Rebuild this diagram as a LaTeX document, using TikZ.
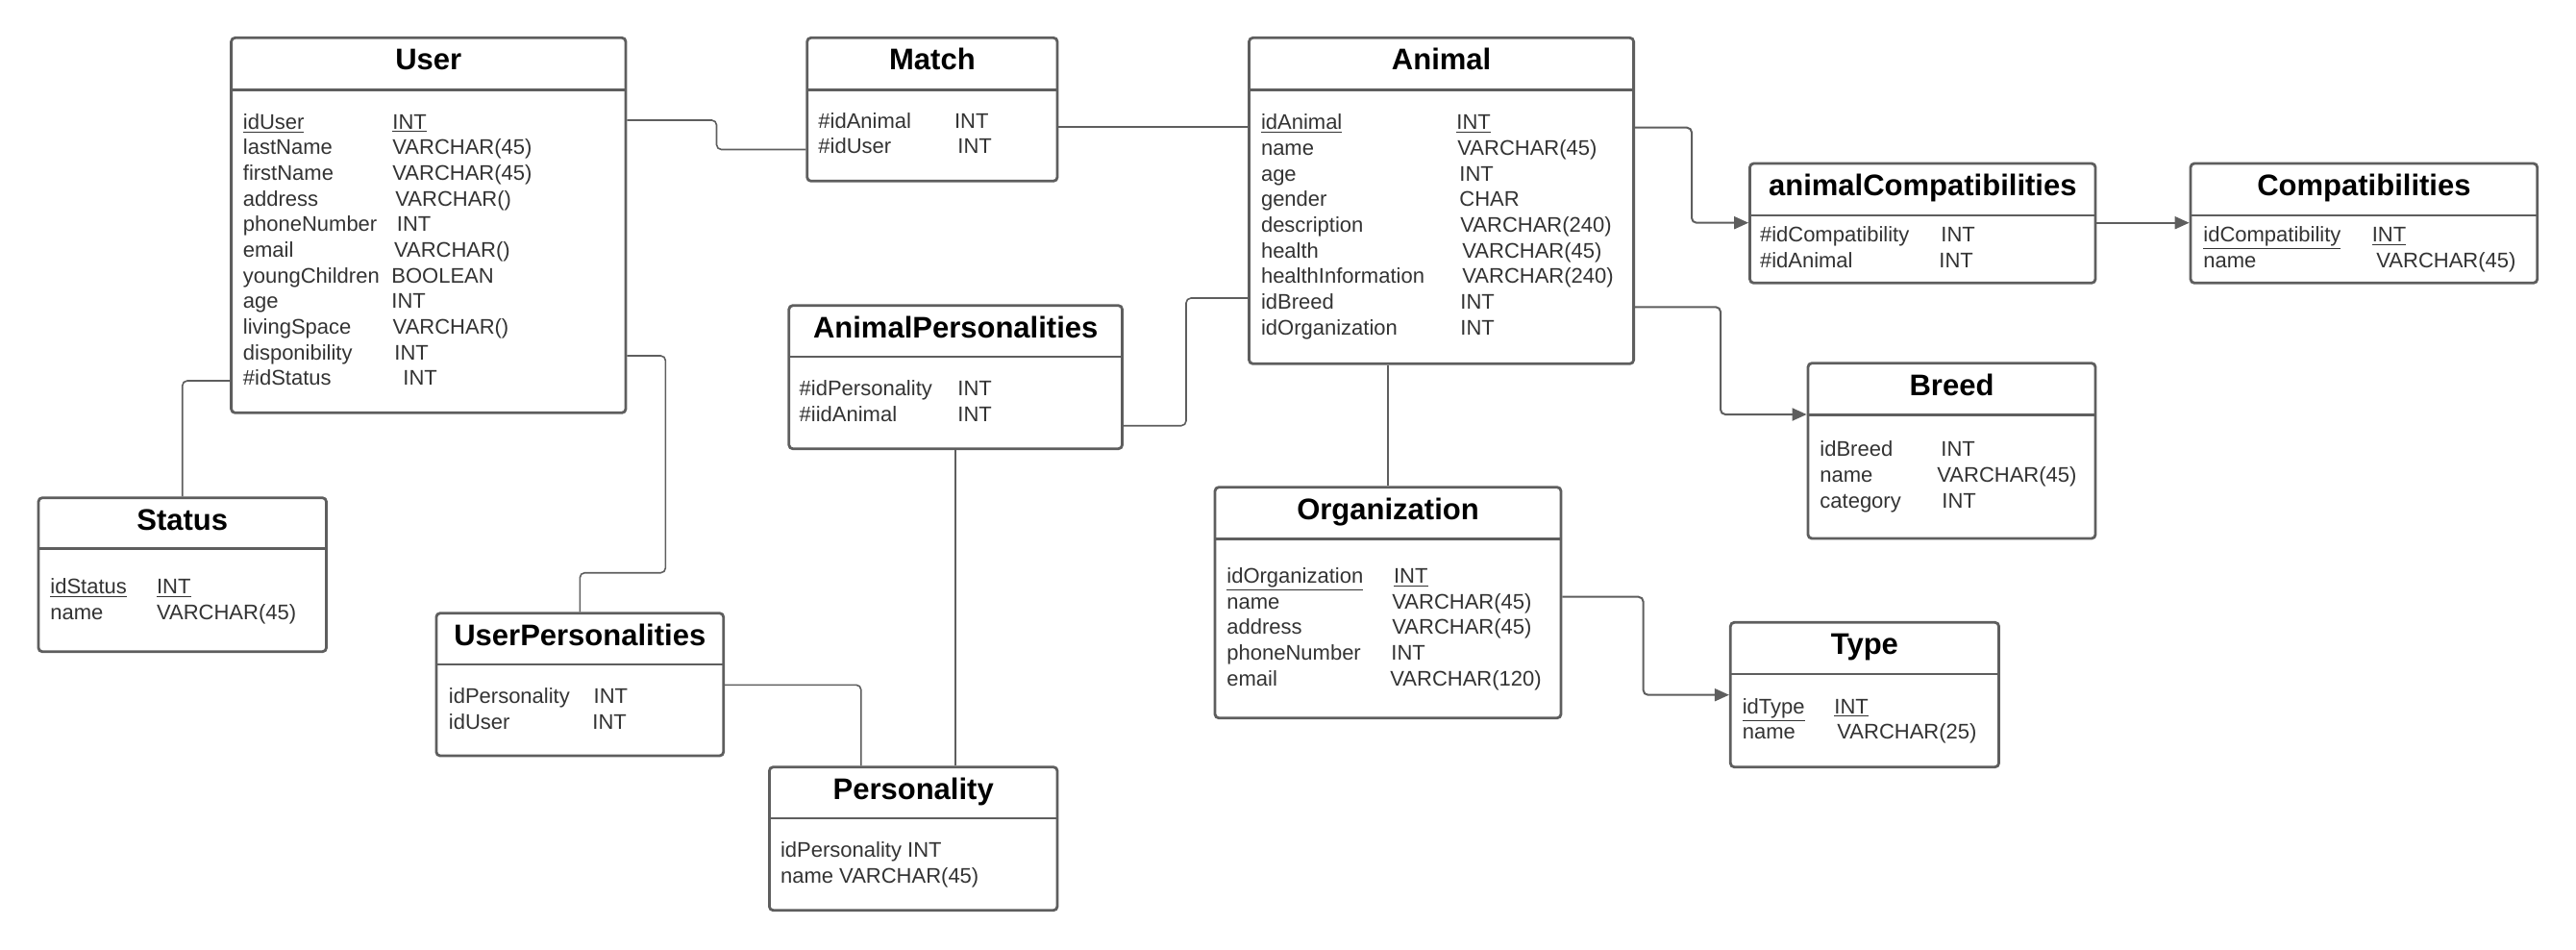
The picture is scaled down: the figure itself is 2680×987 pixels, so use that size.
\documentclass[tikz,border=0pt]{standalone}
\usepackage{fontspec}
\setmainfont{Liberation Sans}
\usetikzlibrary{arrows.meta,fit}
\definecolor{lc}{HTML}{5E5E5E}
\definecolor{tc}{HTML}{333333}
\newcommand{\erfield}[6]{%
  \node[fld] (#1n) at (#2,#4+8) {#5};
  \node[fld] (#1t) at (#3,#4+8) {#6};}
\newcommand{\ertitle}[4]{\node[ttl] (#1) at (#2,#3+33.5) {#4};}
\begin{document}
\begin{tikzpicture}[x=0.5pt,y=-0.5pt,
 ebox/.style={draw=lc, line width=1.4pt, rounded corners=2pt, inner sep=0pt, fill=white},
 hline/.style={draw=lc, line width=1.4pt},
 conn/.style={draw=lc, line width=0.8pt, rounded corners=2.5pt},
 aconn/.style={conn, line width=1pt, -{Triangle[length=7.5pt,width=6.5pt]}},
 ttl/.style={anchor=base, font=\fontsize{15.5pt}{18pt}\selectfont\bfseries, text=black, inner sep=0pt},
 fld/.style={anchor=base west, font=\fontsize{11pt}{13pt}\selectfont, text=tc, inner sep=0pt}]
\useasboundingbox (0,0) rectangle (2680,987);

% ---------- User ----------
\node[ebox, fit={(240.6,39.3) (651,429.3)}] (user) {};
\draw[hline] (240.6,93.3) -- (651,93.3);
\ertitle{userT}{445.8}{39.3}{User}
\erfield{u1}{252.5}{408}{126}{\underline{idUser}}{\underline{INT}}
\erfield{u2}{252.5}{408}{152.7}{lastName}{VARCHAR(45)}
\erfield{u3}{252.5}{408}{179.3}{firstName}{VARCHAR(45)}
\erfield{u4}{252.5}{411}{206}{address}{VARCHAR()}
\erfield{u5}{252.5}{412.5}{232.7}{phoneNumber}{INT}
\erfield{u6}{252.5}{409.7}{259.3}{email}{VARCHAR()}
\erfield{u7}{252.5}{407}{286}{youngChildren}{BOOLEAN}
\erfield{u8}{252.5}{407}{312.7}{age}{INT}
\erfield{u9}{252.5}{408.3}{339.3}{livingSpace}{VARCHAR()}
\erfield{u10}{252.5}{410}{366}{disponibility}{INT}
\erfield{u11}{252.5}{419}{392.7}{\#idStatus}{INT}

% ---------- Match ----------
\node[ebox, fit={(839.7,39.3) (1100,188.3)}] (match) {};
\draw[hline] (839.7,93.3) -- (1100,93.3);
\ertitle{matchT}{969.9}{39.3}{Match}
\erfield{m1}{851}{992.6}{125}{\#idAnimal}{INT}
\erfield{m2}{851}{996}{151.7}{\#idUser}{INT}

% ---------- Animal ----------
\node[ebox, fit={(1299.5,39.3) (1699.6,378.3)}] (animal) {};
\draw[hline] (1299.5,93.3) -- (1699.6,93.3);
\ertitle{animalT}{1499.6}{39.3}{Animal}
\erfield{a1}{1311.6}{1515}{126.7}{\underline{idAnimal}}{\underline{INT}}
\erfield{a2}{1311.6}{1516}{153.3}{name}{VARCHAR(45)}
\erfield{a3}{1311.6}{1518}{180}{age}{INT}
\erfield{a4}{1311.6}{1518}{206.7}{gender}{CHAR}
\erfield{a5}{1311.6}{1519}{233.3}{description}{VARCHAR(240)}
\erfield{a6}{1311.6}{1521}{260}{health}{VARCHAR(45)}
\erfield{a7}{1311.6}{1521}{286.7}{healthInformation}{VARCHAR(240)}
\erfield{a8}{1311.6}{1519}{313.3}{idBreed}{INT}
\erfield{a9}{1311.6}{1519}{340}{idOrganization}{INT}

% ---------- animalCompatibilities ----------
\node[ebox, fit={(1820.5,170) (2180,294.3)}] (animcomp) {};
\draw[hline] (1820.5,224) -- (2180,224);
\ertitle{animcompT}{2000.3}{170}{animalCompatibilities}
\erfield{ac1}{1830.6}{2019}{243.3}{\#idCompatibility}{INT}
\erfield{ac2}{1830.6}{2017}{270}{\#idAnimal}{INT}

% ---------- Compatibilities ----------
\node[ebox, fit={(2279,170) (2639.7,294.3)}] (comp) {};
\draw[hline] (2279,224) -- (2639.7,224);
\ertitle{compT}{2459.4}{170}{Compatibilities}
\erfield{c1}{2292}{2467.4}{243.3}{\underline{idCompatibility}}{\underline{INT}}
\erfield{c2}{2292}{2472}{270}{name}{VARCHAR(45)}

% ---------- AnimalPersonalities ----------
\node[ebox, fit={(820.8,317.7) (1167.5,466.7)}] (animpers) {};
\draw[hline] (820.8,371) -- (1167.5,371);
\ertitle{animpersT}{994.2}{317.7}{AnimalPersonalities}
\erfield{ap1}{831.3}{996}{403.3}{\#idPersonality}{INT}
\erfield{ap2}{831.3}{996}{430}{\#iidAnimal}{INT}

% ---------- Breed ----------
\node[ebox, fit={(1881,377.7) (2180,560)}] (breed) {};
\draw[hline] (1881,431.7) -- (2180,431.7);
\ertitle{breedT}{2030.5}{377.7}{Breed}
\erfield{b1}{1893}{2019}{466.7}{idBreed}{INT}
\erfield{b2}{1893}{2015}{493.3}{name}{VARCHAR(45)}
\erfield{b3}{1893}{2020}{520}{category}{INT}

% ---------- Status ----------
\node[ebox, fit={(40,517.7) (339.5,677.7)}] (status) {};
\draw[hline] (40,570.7) -- (339.5,570.7);
\ertitle{statusT}{189.75}{517.7}{Status}
\erfield{s1}{52}{162.7}{609.3}{\underline{idStatus}}{\underline{INT}}
\erfield{s2}{52}{162.7}{636}{name}{VARCHAR(45)}

% ---------- Organization ----------
\node[ebox, fit={(1264,506.7) (1624,746.7)}] (org) {};
\draw[hline] (1264,560.3) -- (1624,560.3);
\ertitle{orgT}{1444}{506.7}{Organization}
\erfield{o1}{1276}{1449.7}{598.3}{\underline{idOrganization}}{\underline{INT}}
\erfield{o2}{1276}{1448}{625}{name}{VARCHAR(45)}
\erfield{o3}{1276}{1448}{651.7}{address}{VARCHAR(45)}
\erfield{o4}{1276}{1447}{678.3}{phoneNumber}{INT}
\erfield{o5}{1276}{1446}{705}{email}{VARCHAR(120)}

% ---------- UserPersonalities ----------
\node[ebox, fit={(453.9,637.7) (752.7,786)}] (userpers) {};
\draw[hline] (453.9,691) -- (752.7,691);
\ertitle{userpersT}{603.3}{637.7}{UserPersonalities}
\erfield{up1}{466.5}{617.3}{723.3}{idPersonality}{INT}
\erfield{up2}{466.5}{616}{750}{idUser}{INT}

% ---------- Type ----------
\node[ebox, fit={(1800.3,647.3) (2079.5,797.7)}] (type) {};
\draw[hline] (1800.3,701) -- (2079.5,701);
\ertitle{typeT}{1939.9}{647.3}{Type}
\erfield{t1}{1812.4}{1908}{734}{\underline{idType}}{\underline{INT}}
\erfield{t2}{1812.4}{1911}{760.7}{name}{VARCHAR(25)}

% ---------- Personality ----------
\node[ebox, fit={(800.4,797.7) (1100,946.7)}] (pers) {};
\draw[hline] (800.4,851) -- (1100,851);
\ertitle{persT}{950.2}{797.7}{Personality}
\node[fld] (p1) at (811.7,883.3+8) {idPersonality INT};
\node[fld] (p2) at (811.7,910+8) {name VARCHAR(45)};

% ---------- Connectors ----------
\draw[conn] (user.east |- 0,125) -- (745.5,125) -- (745.5,155.5) -- (match.west |- 0,155.5);
\draw[conn] (match.east |- 0,131.7) -- (animal.west |- 0,131.7);
\draw[conn] (user.west |- 0,396) -- (status.north |- 0,396) -- (status.north);
\draw[conn] (user.east |- 0,370) -- (692.4,370) -- (692.4,595.7) -- (userpers.north |- 0,595.7) -- (userpers.north);
\draw[conn] (userpers.east |- 0,712.3) -- (895.8,712.3) -- (pers.north -| 895.8,0);
\draw[conn] (animpers.south) -- (pers.north -| animpers.south);
\draw[conn] (animpers.east |- 0,442.7) -- (1234,442.7) -- (1234,310) -- (animal.west |- 0,310);
\draw[aconn] (animal.east |- 0,132.7) -- (1760,132.7) -- (1760,231.7) -- (animcomp.west |- 0,231.7);
\draw[aconn] (animcomp.east |- 0,231.7) -- (comp.west |- 0,231.7);
\draw[aconn] (animal.east |- 0,319.3) -- (1790,319.3) -- (1790,431) -- (breed.west |- 0,431);
\draw[conn] (org.north |- animal.south) -- (org.north);
\draw[aconn] (org.east |- 0,620.7) -- (1709.6,620.7) -- (1709.6,722.7) -- (type.west |- 0,722.7);
\end{tikzpicture}
\end{document}
